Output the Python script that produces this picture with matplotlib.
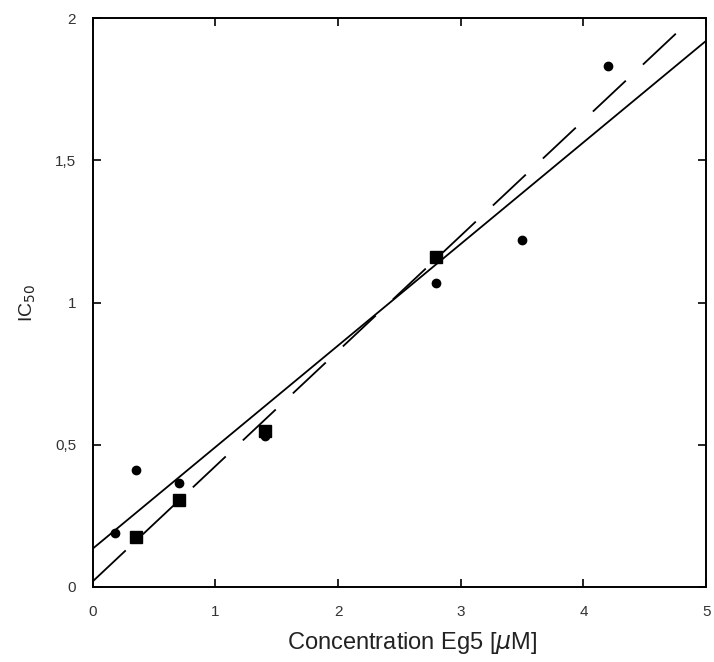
import matplotlib.pyplot as plt
import numpy as np

plt.rcParams['font.family'] = ['Liberation Sans', 'DejaVu Sans']

# data
circ_x = [0.18, 0.35, 0.7, 1.4, 2.8, 3.5, 4.2]
circ_y = [0.19, 0.41, 0.365, 0.53, 1.07, 1.22, 1.83]
sq_x = [0.35, 0.7, 1.4, 2.8]
sq_y = [0.175, 0.305, 0.55, 1.16]

# fitted lines (intercept, slope)
solid_fit = [0.135, 0.357]
dash_fit = [0.02, 0.405]

fig = plt.figure(figsize=(7.14, 6.62), dpi=100)
ax = fig.add_axes([0.130, 0.1133, 0.859, 0.8595])

xx = np.array([0, 5])
ax.plot(xx, solid_fit[0] + solid_fit[1]*xx, color='black', lw=1.3)
ax.plot(xx, dash_fit[0] + dash_fit[1]*xx, color='black', lw=1.3, dashes=(25, 13))
ax.plot(circ_x, circ_y, 'o', color='black', ms=6)
ax.plot(sq_x, sq_y, 's', color='black', ms=9)

ax.set_xlim(0, 5)
ax.set_ylim(0, 2)
ax.set_xticks([0, 1, 2, 3, 4, 5])
ax.set_xticklabels(['0', '1', '2', '3', '4', '5'])
ax.set_yticks([0, 0.5, 1, 1.5, 2])
ax.set_yticklabels(['0', '0,5', '1', '1,5', '2'])
ax.tick_params(direction='in', top=True, right=True, length=6, width=1.2,
               labelsize=11, colors='black', labelcolor='#333333', pad=12)
ax.tick_params(axis='x', pad=13)
for s in ax.spines.values():
    s.set_linewidth(1.4)

ax.set_xlabel('Concentration Eg5 [$\\mu$M]', fontsize=17, color='#222222')
ax.xaxis.set_label_coords(0.52, -0.075)
ax.set_ylabel('IC$_{50}$', fontsize=14, labelpad=12, color='#222222')

plt.savefig('out.png', dpi=100)
